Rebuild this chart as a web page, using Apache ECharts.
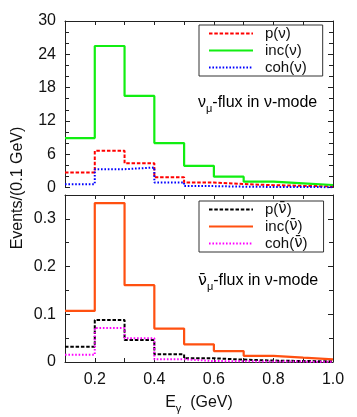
<!DOCTYPE html>
<html><head><meta charset="utf-8">
<script src="https://cdn.jsdelivr.net/npm/echarts@6/dist/echarts.min.js"></script>
<style>html,body{margin:0;padding:0;background:#fff}#c{width:357px;height:417px}</style>
</head><body><div id="c"></div>
<script>
// bin edges (GeV)
const binEdges = [0.1,0.2,0.3,0.4,0.5,0.6,0.7,0.8,0.9,1.0];
// top panel: nu_mu flux in nu-mode
const pNu   = [2.7, 6.6, 4.35, 1.85, 0.9, 0.62, 0.42, 0.3, 0.2];
const incNu = [8.9, 25.5, 16.5, 8.0, 3.9, 1.95, 1.05, 0.75, 0.45];
const cohNu = [0.6, 3.3, 3.6, 0.9, 0.25, 0.15, 0.1, 0.08, 0.06];
// bottom panel: anti-nu_mu flux in nu-mode
const pNuBar   = [0.032, 0.088, 0.046, 0.016, 0.0078, 0.005, 0.003, 0.002, 0.0015];
const incNuBar = [0.107, 0.333, 0.161, 0.07, 0.037, 0.023, 0.013, 0.009, 0.0057];
const cohNuBar = [0.015, 0.071, 0.05, 0.0057, 0.002, 0.0015, 0.001, 0.0008, 0.0006];
const topTicksY = {min:0, max:30, interval:6};
const botTicksY = {min:0, max:0.35, interval:0.1};

const NB = 'ν\u0304';
const names = ['p(ν)','inc(ν)','coh(ν)','p('+NB+')','inc('+NB+')','coh('+NB+')'];

function hist(vals){
  const d = vals.map((v,i)=>[binEdges[i], v]);
  d.push([binEdges[binEdges.length-1], vals[vals.length-1]]);
  return d;
}
const FF = 'Liberation Sans, Arial, sans-serif';
const DV = 'DejaVu Sans';
const AX = '#222';
const GL = 65, GR = 24;

function xAx(grid, pos, showLine, showTick, labels, extra){
  return Object.assign({
    type:'value', gridIndex:grid, position:pos, min:0.1, max:1.0, interval:0.1,
    axisLine:{show:showLine, onZero:false, lineStyle:{color:AX, width:1}},
    axisTick:{show:showTick, inside:true, length:4, lineStyle:{color:AX}},
    axisLabel:{show:labels, color:'#111', fontSize:16, fontFamily:FF, margin:10,
      formatter: v => (Math.round(v*10)%2===0 ? v.toFixed(1) : '')},
    splitLine:{show:false}
  }, extra||{});
}
function yAx(grid, pos, labels, t, minorSplit, fmt){
  return {
    type:'value', gridIndex:grid, position:pos, min:t.min, max:t.max, interval:t.interval,
    axisLine:{show:true, lineStyle:{color:AX, width:1}},
    axisTick:{show:true, inside:true, length:5, lineStyle:{color:AX}},
    minorTick:{show:true, splitNumber:minorSplit, length:4, lineStyle:{color:AX}},
    axisLabel:{show:labels, color:'#111', fontSize:16, fontFamily:FF, margin:9, formatter:fmt},
    splitLine:{show:false}, minorSplitLine:{show:false}
  };
}
function ser(name, vals, xi, yi, color, type, w){
  return {name, type:'line', xAxisIndex:xi, yAxisIndex:yi, step:'end', data:hist(vals),
    symbol:'none', showSymbol:false, animation:false,
    lineStyle:{color, width:w, type}, itemStyle:{color}};
}
const dashed = [3.5,1.8], dotted = [1.6,1.8];
function legendCfg(data, top){
  return {data, orient:'vertical', left:199, top, selectedMode:false,
    borderColor:'#333', borderWidth:1, borderRadius:0, padding:[1,16,1,9],
    itemWidth:44, itemHeight:15, itemGap:2,
    itemStyle:{opacity:0, borderWidth:0},
    formatter: n => n.split(NB).join('{b|'+NB+'}'),
    textStyle:{fontSize:15, fontFamily:FF, color:'#111', padding:[0,0,0,7], lineHeight:15,
      rich:{b:{fontSize:15, fontFamily:DV, color:'#111', lineHeight:15}}}};
}
const rich = {
  a:{fontSize:16, fontFamily:FF, color:'#111', verticalAlign:'top', lineHeight:16},
  b:{fontSize:16, fontFamily:DV, color:'#111', verticalAlign:'top', lineHeight:16},
  s:{fontSize:11, fontFamily:FF, color:'#111', lineHeight:28}
};

const chart = echarts.init(document.getElementById('c'), null, {renderer:'canvas'});
chart.setOption({
  backgroundColor:'#fff',
  animation:false,
  grid:[
    {left:GL, right:GR, top:21, height:166.5},
    {left:GL, right:GR, top:195, height:167}
  ],
  xAxis:[
    xAx(0,'bottom',false,false,false),
    xAx(0,'top',true,true,false),
    xAx(1,'bottom',true,true,true,{name:'{a|E}{s|γ}{a|  (GeV)}', nameLocation:'middle', nameGap:33,
      nameTextStyle:{rich}}),
    xAx(1,'top',true,true,false)
  ],
  yAxis:[
    yAx(0,'left',true,topTicksY,3),
    yAx(0,'right',false,topTicksY,3),
    yAx(1,'left',true,botTicksY,2, v => (v>0.31 ? '' : (v===0?'0':v.toFixed(1)))),
    yAx(1,'right',false,botTicksY,2)
  ],
  legend:[ legendCfg(names.slice(0,3), 25), legendCfg(names.slice(3), 201) ],
  series:[
    ser(names[0], pNu, 0, 0, '#ff0000', dashed, 2),
    ser(names[1], incNu, 0, 0, '#11ee11', 'solid', 2.2),
    ser(names[2], cohNu, 0, 0, '#0000ff', dotted, 2),
    ser(names[3], pNuBar, 2, 2, '#000000', dashed, 2),
    ser(names[4], incNuBar, 2, 2, '#ff5010', 'solid', 2.2),
    ser(names[5], cohNuBar, 2, 2, '#ff00ff', dotted, 2)
  ],
  graphic:[
    {type:'text', left:198, top:95, style:{text:'{a|ν}{s|μ}{a|-flux in ν-mode}', rich}},
    {type:'text', left:198, top:273, style:{text:'{b|'+NB+'}{s|μ}{a|-flux in ν-mode}', rich}},
    {type:'text', x:18, y:188, rotation:Math.PI/2,
      style:{text:'Events/(0.1 GeV)', fontSize:16, fontFamily:FF, fill:'#111', align:'center', verticalAlign:'middle'}}
  ]
});
</script></body></html>
